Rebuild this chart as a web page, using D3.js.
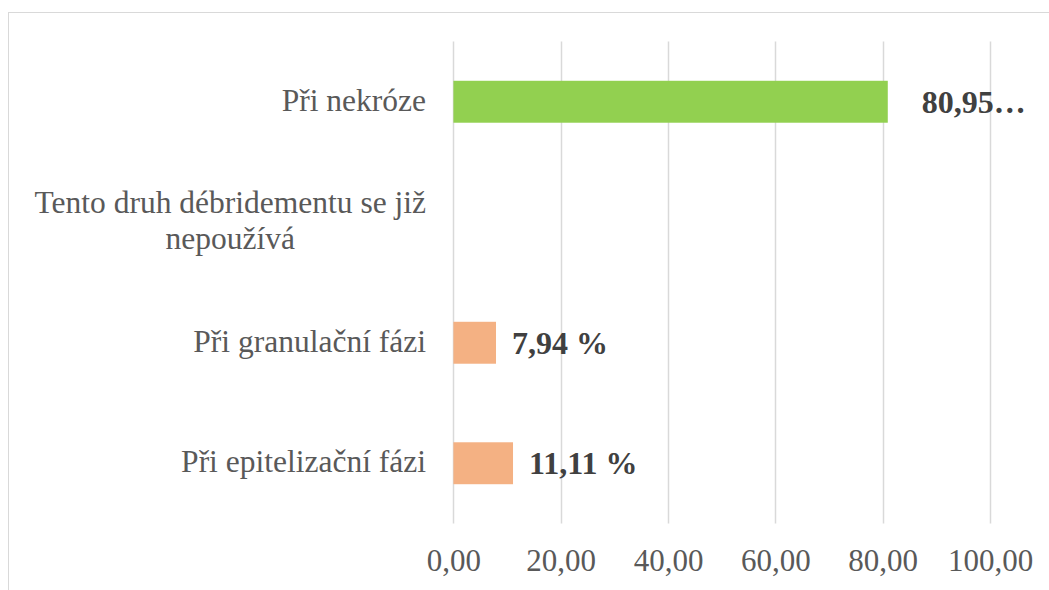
<!DOCTYPE html>
<html><head><meta charset="utf-8">
<script src="https://cdn.jsdelivr.net/npm/d3@7"></script>
<style>body{margin:0;background:#fff}svg{display:block}</style>
</head><body>
<script>
const categories = ["Při nekróze","Tento druh débridementu se již nepoužívá","Při granulační fázi","Při epitelizační fázi"];
const values = [80.95, 0, 7.94, 11.11];
const labels = ["80,95…", "", "7,94 %", "11,11 %"];
const barColors = ["#92D050", "#92D050", "#F4B183", "#F4B183"];
const tickValues = [0, 20, 40, 60, 80, 100];
const tickLabels = ["0,00","20,00","40,00","60,00","80,00","100,00"];

const W = 1049, H = 590;
const svg = d3.select("body").append("svg").attr("width", W).attr("height", H);
const font = "'Liberation Serif','Times New Roman',serif";

svg.append("rect").attr("x", 8.5).attr("y", 12.5).attr("width", 1100).attr("height", 700)
  .attr("fill", "#fff").attr("stroke", "#D9D9D9").attr("stroke-width", 1);

const x = d3.scaleLinear().domain([0, 100]).range([453.4, 990]);
const y = d3.scaleBand().domain(categories).range([41.5, 523.5]).paddingInner(0.652).paddingOuter(0.326);

// gridlines
svg.append("g").selectAll("line").data(tickValues).join("line")
  .attr("x1", d => Math.round(x(d)) + 0.5).attr("x2", d => Math.round(x(d)) + 0.5)
  .attr("y1", 41.5).attr("y2", 523.5)
  .attr("stroke", "#D9D9D9").attr("stroke-width", 1.5);

// x axis tick labels
const xa = svg.append("g").attr("transform", "translate(0,523.5)")
  .call(d3.axisBottom(x).tickValues(tickValues).tickSize(0).tickPadding(0)
    .tickFormat((d, i) => tickLabels[i]));
xa.select(".domain").remove();
xa.selectAll("text").attr("font-family", font).attr("font-size", 31).attr("fill", "#595959")
  .attr("dy", null).attr("y", 47.5);

// bars
svg.append("g").selectAll("rect").data(categories).join("rect")
  .attr("x", x(0)).attr("y", d => y(d))
  .attr("width", (d, i) => x(values[i]) - x(0))
  .attr("height", y.bandwidth())
  .attr("fill", (d, i) => barColors[i]);

// category labels (wrapped, right aligned block, centered lines)
const maxW = 400, labelRight = 426, lh = 36;
const cat = svg.append("g");
categories.forEach((c, i) => {
  const cy = y(c) + y.bandwidth() / 2;
  const t = cat.append("text").attr("font-family", font).attr("font-size", 31.5).attr("fill", "#595959");
  const words = c.split(" ");
  const lines = [];
  let cur = [];
  const probe = t.append("tspan");
  words.forEach(w => {
    const test = cur.concat([w]).join(" ");
    probe.text(test);
    if (probe.node().getComputedTextLength() > maxW && cur.length) {
      lines.push(cur.join(" ")); cur = [w];
    } else cur.push(w);
  });
  lines.push(cur.join(" "));
  probe.remove();
  const widths = lines.map(l => { const p = t.append("tspan").text(l); const wd = p.node().getComputedTextLength(); p.remove(); return wd; });
  const blockW = d3.max(widths);
  const center = labelRight - blockW / 2;
  const base = cy + 9 - (lines.length - 1) * lh / 2;
  lines.forEach((l, k) => {
    t.append("tspan").attr("x", lines.length > 1 ? center : labelRight)
      .attr("text-anchor", lines.length > 1 ? "middle" : "end")
      .attr("y", base + k * lh).text(l);
  });
});

// data labels
svg.append("g").selectAll("text").data(categories).join("text")
  .attr("x", (d, i) => x(values[i]) + (labels[i].endsWith("…") ? 34 : 16))
  .attr("y", d => y(d) + y.bandwidth() / 2 + 11)
  .attr("font-family", font).attr("font-size", 32).attr("font-weight", "bold").attr("fill", "#404040")
  .text((d, i) => labels[i]);
</script>
</body></html>
